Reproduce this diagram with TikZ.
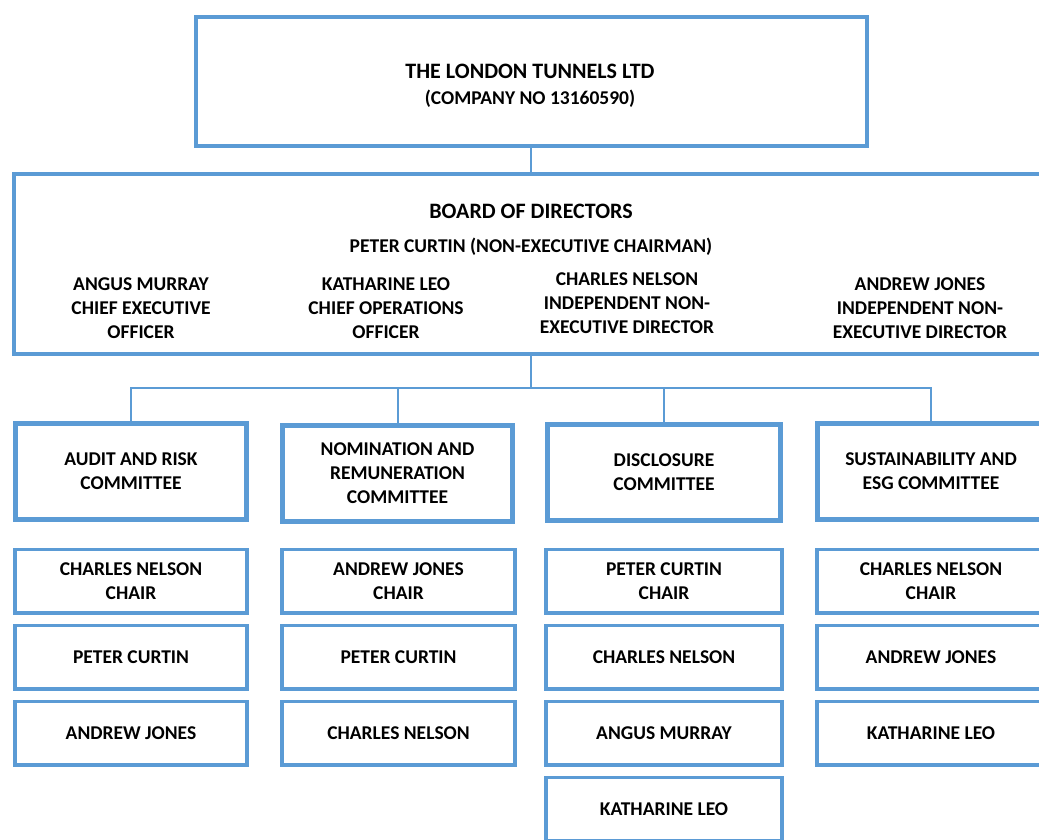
\documentclass[tikz,border=0pt]{standalone}
\usepackage{fontspec}
\setmainfont{Carlito}
\usetikzlibrary{positioning}
\definecolor{orgblue}{RGB}{91,155,213}

\begin{document}
\begin{tikzpicture}[x=1pt,y=-1pt,
		every node/.style={font=\bfseries\fontsize{19.5}{24}\selectfont,align=center,inner sep=0pt},
		headline/.style={font=\bfseries\fontsize{22}{26}\selectfont},
		companybox/.style={draw=orgblue,line width=4pt,minimum width=671pt,minimum height=129pt},
		boardbox/.style={draw=orgblue,line width=4pt,minimum width=1034pt,minimum height=180pt},
		committee/.style={draw=orgblue,line width=5pt,minimum height=96pt},
		member/.style={draw=orgblue,line width=3.5pt,minimum height=63.5pt},
		link/.style={draw=orgblue,line width=2pt},
		node distance=9pt]
	\useasboundingbox (0,0) rectangle (1039,840);

	\node[companybox] (company) at (531,81.5) {};
	\node[headline] (companyname) at (530,71) {THE LONDON TUNNELS LTD};
	\node (companyno) at (530,99) {(COMPANY NO 13160590)};
	\node[boardbox] (board) at (531,264) {};
	\node[headline] (boardtitle) at (531,211) {BOARD OF DIRECTORS};
	\node (chairman) at (531,247) {PETER CURTIN (NON-EXECUTIVE CHAIRMAN)};
	\node (murray) at (141,308) {ANGUS MURRAY\\CHIEF EXECUTIVE\\OFFICER};
	\node (leo) at (386,308) {KATHARINE LEO\\CHIEF OPERATIONS\\OFFICER};
	\node (nelson) at (627,303) {CHARLES NELSON\\INDEPENDENT NON-\\EXECUTIVE DIRECTOR};
	\node (jones) at (920,308) {ANDREW JONES\\INDEPENDENT NON-\\EXECUTIVE DIRECTOR};

	\node[committee,minimum width=231pt] (audit) at (131,471.5) {AUDIT AND RISK\\COMMITTEE};
	\node[committee,minimum width=230pt] (nomination) at (397.5,473.5) {NOMINATION AND\\REMUNERATION\\COMMITTEE};
	\node[committee,minimum width=233pt] (disclosure) at (664,472.5) {DISCLOSURE\\COMMITTEE};
	\node[committee,minimum width=228pt] (esg) at (931,471) {SUSTAINABILITY AND\\ESG COMMITTEE};

	\node[member,minimum width=232pt] (audita) at (131,581) {CHARLES NELSON\\CHAIR};
	\node[member,minimum width=232pt,below=of audita] (auditb) {PETER CURTIN};
	\node[member,minimum width=232pt,below=of auditb] (auditc) {ANDREW JONES};

	\node[member,minimum width=233pt] (noma) at (398.5,581) {ANDREW JONES\\CHAIR};
	\node[member,minimum width=233pt,below=of noma] (nomb) {PETER CURTIN};
	\node[member,minimum width=233pt,below=of nomb] (nomc) {CHARLES NELSON};

	\node[member,minimum width=236pt] (disca) at (664,581) {PETER CURTIN\\CHAIR};
	\node[member,minimum width=236pt,below=of disca] (discb) {CHARLES NELSON};
	\node[member,minimum width=236pt,below=of discb] (discc) {ANGUS MURRAY};
	\node[member,minimum width=236pt,below=of discc] (discd) {KATHARINE LEO};

	\node[member,minimum width=228pt] (esga) at (931,581) {CHARLES NELSON\\CHAIR};
	\node[member,minimum width=228pt,below=of esga] (esgb) {ANDREW JONES};
	\node[member,minimum width=228pt,below=of esgb] (esgc) {KATHARINE LEO};

	\coordinate (split) at (531,388);
	\draw[link] (company) -- (board);
	\draw[link] (board) -- (split);
	\draw[link] (split) -| (audit);
	\draw[link] (split) -| (nomination);
	\draw[link] (split) -| (disclosure);
	\draw[link] (split) -| (esg);
\end{tikzpicture}
\end{document}
